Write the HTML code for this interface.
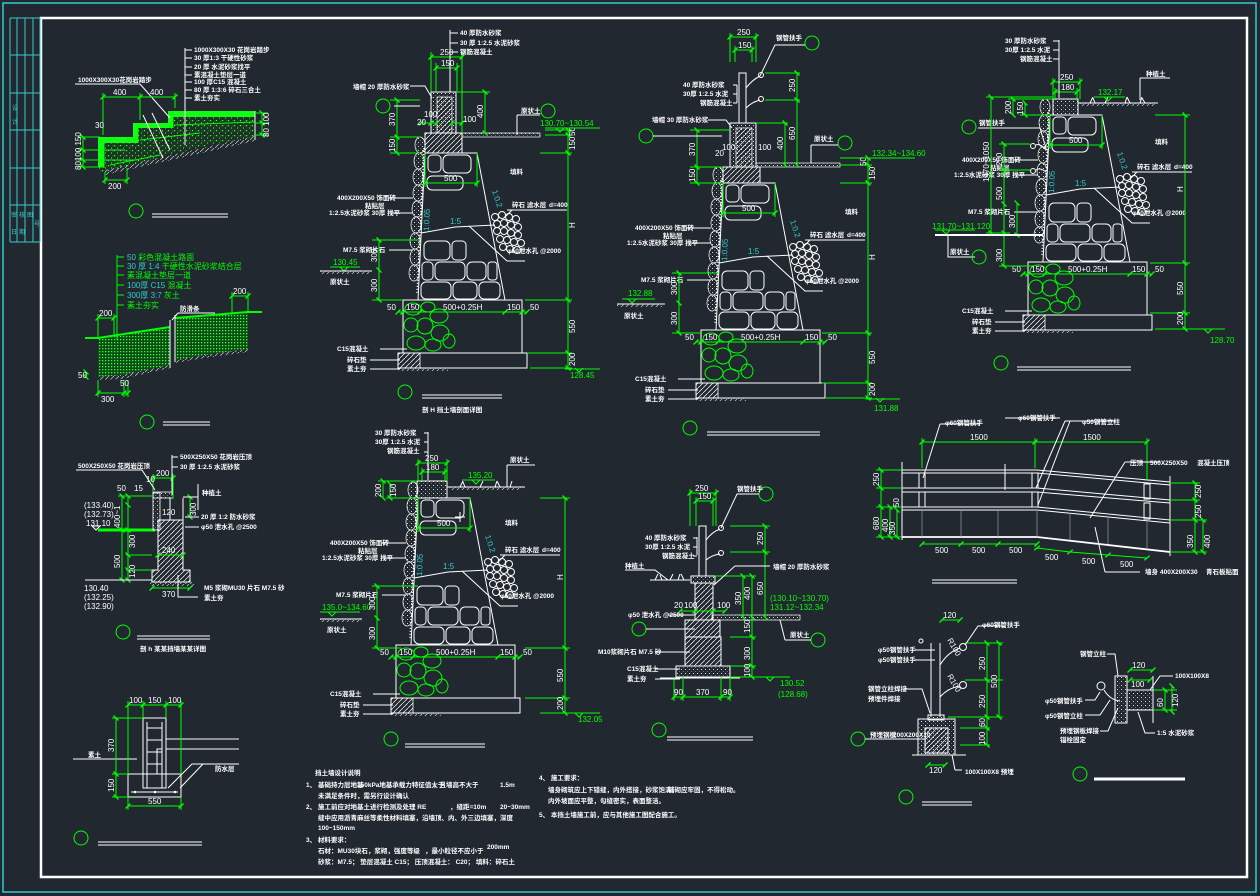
<!DOCTYPE html>
<html><head><meta charset="utf-8">
<style>
html,body{margin:0;padding:0;background:#212830;}
svg{display:block}
.w{stroke:#fff;fill:none;stroke-width:1}
.g{stroke:#0f0;fill:none;stroke-width:1}
.c{stroke:#3cc;fill:none;stroke-width:1}
.d{stroke:#0f0;fill:none;stroke-width:1;marker-start:url(#tk);marker-mid:url(#tk);marker-end:url(#tk)}
text{font-family:"Liberation Sans","Noto Sans CJK SC",sans-serif}
.t{fill:#fff;font-size:6.5px;font-weight:bold}
.gt{fill:#0f0;font-size:8px}
.ct{fill:#3cc;font-size:8px}
.dt{fill:#fff;font-size:8px}
.cy{fill:#3cc;font-size:6px}
</style></head><body>
<svg width="1260" height="896" viewBox="0 0 1260 896" xmlns="http://www.w3.org/2000/svg">
<defs>
<marker id="tk" viewBox="-4 -4 8 8" markerWidth="8" markerHeight="8" markerUnits="userSpaceOnUse" orient="auto"><path d="M-2.5,2.5L2.5,-2.5" stroke="#0f0" stroke-width="1.3"/></marker>
<pattern id="hat" width="5" height="5" patternUnits="userSpaceOnUse"><path d="M0,5L5,0" stroke="#fff" stroke-width="0.7"/></pattern>
<pattern id="dot" width="4" height="4" patternUnits="userSpaceOnUse"><rect x="1" y="1" width="1" height="1" fill="#ddd"/><rect x="3" y="3" width="0.8" height="0.8" fill="#999"/></pattern>
<pattern id="gdot" width="3" height="3" patternUnits="userSpaceOnUse"><rect width="3" height="3" fill="#0b4a14"/><rect x="0" y="0" width="1.3" height="1.3" fill="#3f3"/></pattern>
<pattern id="gsp" width="6" height="5" patternUnits="userSpaceOnUse"><rect width="6" height="5" fill="#1a3322"/><rect x="0" y="0" width="1.2" height="1.2" fill="#3f3"/><rect x="3" y="2.5" width="1" height="1" fill="#9c9"/><rect x="4.5" y="0.5" width="0.8" height="0.8" fill="#2c2"/></pattern>
<pattern id="soil" width="5" height="4" patternUnits="userSpaceOnUse"><path d="M0,4L4,0" stroke="#ccc" stroke-width="0.7"/></pattern>

<g id="wb">
 <polygon class="w" points="0,0 52,0 80,147 -7,147"/>
 <g class="w">
  <rect x="3" y="2" width="13" height="17" rx="4"/>
  <rect x="18" y="2" width="28" height="18" rx="5"/>
  <rect x="2" y="23" width="36" height="14" rx="5"/>
  <rect x="-1" y="88" width="26" height="19" rx="5"/>
  <rect x="27" y="88" width="14" height="19" rx="4"/>
  <rect x="-3" y="109" width="11" height="18" rx="4"/>
  <rect x="10" y="109" width="30" height="18" rx="5"/>
  <rect x="42" y="109" width="19" height="18" rx="5"/>
  <rect x="63" y="109" width="9" height="18" rx="3"/>
  <rect x="-4" y="129" width="30" height="17" rx="5"/>
  <rect x="28" y="129" width="24" height="17" rx="5"/>
  <rect x="54" y="129" width="21" height="17" rx="5"/>
  <path d="M-4,80 L30,74 L70,72"/>
  <path d="M44,73 L82,108 L100,108"/>
  <rect x="-22" y="147" width="119" height="53"/>
  <rect x="-27" y="200" width="129" height="15"/>
  <circle cx="70" cy="64" r="3.5"/><circle cx="77" cy="62" r="3.5"/><circle cx="84" cy="64" r="3.5"/><circle cx="91" cy="66" r="3.5"/>
  <circle cx="72" cy="71" r="3.5"/><circle cx="79" cy="70" r="3.5"/><circle cx="86" cy="72" r="3.5"/><circle cx="93" cy="74" r="3.5"/>
  <circle cx="72" cy="78" r="3.5"/><circle cx="79" cy="78" r="3.5"/><circle cx="86" cy="80" r="3.5"/><circle cx="93" cy="82" r="3.5"/>
  <circle cx="75" cy="86" r="3.5"/><circle cx="82" cy="87" r="3.5"/><circle cx="89" cy="89" r="3.5"/><circle cx="96" cy="90" r="3.5"/>
  <circle cx="78" cy="94" r="3.5"/><circle cx="85" cy="96" r="3.5"/><circle cx="92" cy="97" r="3.5"/>
 </g>
 <g stroke="#fff" stroke-width="0.7" fill="url(#dot)">
  <ellipse cx="-5" cy="-8" rx="5" ry="8"/><ellipse cx="-6" cy="8" rx="5" ry="8"/><ellipse cx="-7" cy="24" rx="5" ry="8"/>
  <ellipse cx="-7" cy="40" rx="5" ry="8"/><ellipse cx="-8" cy="56" rx="5" ry="8"/><ellipse cx="-9" cy="72" rx="5" ry="8"/>
  <ellipse cx="-10" cy="88" rx="5" ry="8"/><ellipse cx="-10" cy="104" rx="5" ry="8"/><ellipse cx="-11" cy="120" rx="5" ry="8"/>
 </g>
 <path d="M-1,-5 L-8,140" stroke="#fff" stroke-width="1.5" stroke-dasharray="1 2" fill="none"/>
 <g class="g" stroke-width="1.2">
  <ellipse cx="-12" cy="156" rx="8" ry="6"/><ellipse cx="3" cy="154" rx="7" ry="5"/><ellipse cx="14" cy="163" rx="9" ry="7"/>
  <ellipse cx="-14" cy="172" rx="7" ry="7"/><ellipse cx="0" cy="173" rx="8" ry="8"/><ellipse cx="15" cy="180" rx="9" ry="8"/>
  <ellipse cx="-9" cy="190" rx="9" ry="7"/><ellipse cx="8" cy="192" rx="8" ry="6"/><ellipse cx="24" cy="188" rx="6" ry="7"/>
 </g>
 <rect x="-27" y="200" width="22" height="15" fill="url(#hat)" stroke="#fff" stroke-width="0.8"/>
 <rect x="-27" y="215" width="50" height="3" fill="url(#soil)"/>
 <polyline class="d" points="0,30 52,30"/>
 <path class="g" d="M0,0V34M52,0V34" stroke-width="0.6"/>
 <text class="dt" x="19" y="28">500</text>
 <polyline class="d" points="-27,159 -22,159 -5,159 80,159 97,159 102,159"/>
 <text class="dt" x="-38" y="157">50</text>
 <text class="dt" x="-19" y="157">150</text>
 <text class="dt" x="18" y="157">500+0.25H</text>
 <text class="dt" x="82" y="157">150</text>
 <text class="dt" x="105" y="157">50</text>
 <text class="ct" transform="translate(67,38) rotate(72)">1:0.2</text>
 <text class="ct" transform="translate(4,78) rotate(-88)">1:0.05</text>
 <text class="ct" x="25" y="71">1:5</text>
 <text class="t" x="-88" y="47">400X200X50 饰面砖</text>
 <text class="t" x="-60" y="55">粘贴层</text>
 <text class="t" x="-96" y="62">1:2.5水泥砂浆 30厚 找平</text>
 <text class="t" x="-82" y="99">M7.5 浆砌片石</text>
 <text class="t" x="-88" y="198">C15混凝土</text>
 <text class="t" x="-78" y="209">碎石垫</text>
 <text class="t" x="-78" y="218">素土夯</text>
 <path class="w" stroke-width="0.8" d="M-36,45H-12M-36,60H-12M-36,97H-12M-45,196H-18M-55,207H-25M-55,216H-25"/>
 <text class="t" x="87" y="54">碎石 滤水层</text><text class="t" x="124" y="54">d=400</text>
 <path class="w" stroke-width="0.8" d="M82,57H142M80,64L87,57"/>
 <text class="t" x="82" y="100">φ50泄水孔 @2000</text>
</g>
</defs>

<!-- frame -->
<rect x="3" y="3" width="1253" height="889" fill="none" stroke="#3cc" stroke-width="1.5"/>
<rect x="41" y="18" width="1206" height="859" fill="none" stroke="#fff" stroke-width="2.5"/>
<g class="c">
 <path d="M10,18V242M17,18V242M25,18V242M33,18V242M40,18V242"/>
 <path d="M10,18H40M10,55H40M10,93H40M10,130H40M10,168H40M10,205H40M10,242H40"/>
</g>
<text class="cy" x="12" y="110">设</text><text class="cy" x="12" y="124">计</text>
<text class="cy" x="11" y="217">审</text><text class="cy" x="19" y="217">核</text><text class="cy" x="27" y="217">图</text>
<text class="cy" x="11" y="234">日</text><text class="cy" x="19" y="234">期</text><text class="cy" x="34" y="226">号</text>

<!-- ============ Drawing 1: steps ============ -->
<polygon points="98,137 133,137 133,123 168,123 168,111 255,111 255,137 215,144 175,153 140,163 105,172 98,172" fill="url(#gsp)"/>
<g fill="#1f1">
 <rect x="168" y="111" width="87" height="6"/>
 <rect x="168" y="111" width="5" height="17"/>
 <rect x="133" y="123" width="40" height="5"/>
 <rect x="133" y="123" width="5" height="20"/>
 <rect x="98" y="137" width="40" height="6"/>
 <rect x="98" y="137" width="6" height="30"/>
</g>
<path class="g" stroke-width="1.2" d="M104,143V168M138,128V143M173,117V128M104,160H135M104,150H125"/>
<path class="g" stroke-width="0.8" d="M175,125L255,122M140,140L200,133M110,165L160,155"/>
<path class="w" d="M255,111V140"/>
<polygon points="105,170 255,136 255,141 105,175" fill="url(#soil)"/>
<path class="w" d="M143,115L163,158M152,113L170,150"/>
<text class="t" x="78" y="82">1000X300X30花岗岩踏步</text>
<path class="w" d="M75,84H140L170,118"/>
<path class="w" d="M185,48V145M185,50H192M185,58H192M185,67H192M185,75H192M185,82H192M185,90H192M185,98H192"/>
<text class="t" x="194" y="52">1000X300X30 花岗岩踏步</text>
<text class="t" x="194" y="60">30 厚1:3 干硬性砂浆</text>
<text class="t" x="194" y="69">20 厚 水泥砂浆找平</text>
<text class="t" x="194" y="77">素混凝土垫层一道</text>
<text class="t" x="194" y="84">100 厚C15 混凝土</text>
<text class="t" x="194" y="92">80 厚 1:3:6  碎石三合土</text>
<text class="t" x="194" y="100">素土夯实</text>
<polyline class="d" points="103,97 140,97 175,97"/>
<path class="g" stroke-width="0.6" d="M103,93V135M140,93V120M175,93V108"/>
<text class="dt" x="113" y="95">400</text><text class="dt" x="150" y="95">400</text>
<polyline class="d" points="105,180 127,180"/>
<path class="g" stroke-width="0.6" d="M105,172V184M127,168V184"/>
<text class="dt" x="108" y="189">200</text>
<polyline class="d" points="83,137 83,150 83,160 83,167"/>
<path class="g" stroke-width="0.6" d="M78,137H100M78,150H104M78,160H104M78,167H104"/>
<text class="dt" transform="translate(81,170) rotate(-90)">80100 150</text>
<text class="dt" x="95" y="128">30</text>
<polyline class="d" points="262,113 262,123 262,135"/>
<path class="g" stroke-width="0.6" d="M255,113H268M255,123H268M255,135H268"/>
<text class="dt" transform="translate(269,137) rotate(-90)">80 100</text>
<circle cx="136" cy="211" r="7" class="g" stroke-width="1.5"/>
<path class="w" stroke-width="1.3" d="M152,214H228M152,217H228"/>

<!-- ============ Drawing 2: slope path ============ -->
<polygon points="98,338 170,327 170,365 122,375 98,377" fill="url(#gdot)"/>
<polygon points="175,318 248,312 248,349 205,355 175,360" fill="url(#gdot)"/>
<path d="M85,338H98L170,327M175,318L248,312H262" stroke="#0f0" stroke-width="2" fill="none"/>
<path class="w" d="M170,320V368M175,315V362"/>
<polygon points="98,377 122,375 170,365 170,368 122,379 98,380" fill="url(#soil)"/>
<polygon points="175,360 205,355 248,349 248,352 205,358 175,363" fill="url(#soil)"/>
<path class="g" d="M117,255V340M117,257H124M117,266H124M117,275H124M117,285H124M117,295H124M117,305H124"/>
<text class="gt" x="127" y="260"><tspan fill="#3cc">50</tspan> 彩色混凝土路面</text>
<text class="gt" x="127" y="269"><tspan fill="#3cc">30 厚 1:4</tspan>  干硬性水泥砂浆结合层</text>
<text class="gt" x="127" y="278">素混凝土垫层一道</text>
<text class="gt" x="127" y="288"><tspan fill="#3cc">100厚 C15</tspan>  混凝土</text>
<text class="gt" x="127" y="298"><tspan fill="#3cc">300厚 3:7</tspan> 灰土</text>
<text class="gt" x="127" y="308">素土夯实</text>
<text class="t" x="180" y="311">防滑条</text>
<path class="w" d="M178,313H215M178,313L172,320"/>
<polyline class="d" points="98,318 114,318"/>
<path class="g" stroke-width="0.6" d="M98,314V338M114,314V336"/>
<text class="dt" x="99" y="316">200</text>
<polyline class="d" points="232,296 248,296"/>
<path class="g" stroke-width="0.6" d="M232,292V314M248,292V312"/>
<text class="dt" x="233" y="294">200</text>
<polyline class="d" points="98,393 124,393 128,393"/>
<path class="g" stroke-width="0.6" d="M98,380V397M124,380V397M128,380V397"/>
<text class="dt" x="101" y="402">300</text><text class="dt" x="120" y="386">50</text>
<polyline class="d" points="86,372 86,377"/>
<text class="dt" x="78" y="378">50</text>
<circle cx="147" cy="422" r="7" class="g" stroke-width="1.5"/>
<path class="w" stroke-width="1.3" d="M163,422H210M163,425H210"/>

<!-- ============ Drawing 3: curb ============ -->
<path d="M98,530H155" stroke="#0f0" stroke-width="3"/>
<rect x="153" y="493" width="7" height="37" fill="url(#dot)" stroke="#fff" stroke-width="0.8"/>
<rect x="153" y="492" width="20" height="6" fill="url(#dot)" stroke="#fff" stroke-width="0.8"/>
<path class="w" d="M170,498V520H183V498"/>
<polygon points="158,530 158,520 183,520 183,570 190,570 190,582 152,582 152,570 158,570" fill="url(#hat)" stroke="#fff"/>
<rect x="150" y="582" width="45" height="4" fill="url(#soil)"/>
<polyline class="d" points="153,478 173,478"/>
<path class="g" stroke-width="0.6" d="M153,474V492M173,474V498"/>
<text class="dt" x="156" y="476">200</text>
<text class="dt" x="117" y="491">50</text><text class="dt" x="134" y="491">15</text><text class="dt" x="146" y="482">10</text>
<text class="dt" x="162" y="515">120</text>
<polyline class="d" points="122,496 122,530 122,580"/>
<polyline class="d" points="128,496 128,505 128,530 128,555 128,570 128,580"/>
<path class="g" stroke-width="0.6" d="M118,496H153M118,530H132M118,580H152M126,555H152M126,570H152"/>
<text class="dt" transform="translate(120,528) rotate(-90)">400~1</text>
<text class="dt" transform="translate(120,568) rotate(-90)">500</text>
<text class="dt" transform="translate(135,548) rotate(-90)">300</text>
<text class="dt" transform="translate(135,578) rotate(-90)">120</text>
<polyline class="d" points="158,555 183,555"/><text class="dt" x="162" y="553">240</text>
<polyline class="d" points="152,588 190,588"/><text class="dt" x="162" y="597">370</text>
<polyline class="d" points="190,497 190,517"/><text class="dt" transform="translate(196,516) rotate(-90)">300</text>
<text class="t" x="78" y="468">500X250X50 花岗岩压顶</text>
<path class="w" d="M76,470H142L155,490"/>
<path class="w" d="M172,455V495M172,457H178M172,467H178"/>
<text class="t" x="180" y="459">500X250X50 花岗岩压顶</text>
<text class="t" x="180" y="469">30 厚 1:2.5   水泥砂浆</text>
<path class="w" d="M183,497H198M198,484V510"/>
<text class="t" x="202" y="495">种植土</text>
<text class="t" x="201" y="519">20 厚 1:2   防水砂浆</text>
<text class="t" x="201" y="529">φ50 泄水孔 @2500</text>
<path class="w" d="M185,517H199M185,527H199M178,575V597H198"/>
<text class="t" x="204" y="590">M5 浆砌MU30 片石   M7.5 砂</text>
<text class="t" x="204" y="600">素土夯</text>
<text class="dt" x="84" y="508">(133.40)</text><text class="dt" x="84" y="517">(132.73)</text><text class="dt" x="86" y="526">131.10</text>
<path class="w" d="M96,530l4,-4h-8z" stroke-width="0.7"/>
<path class="w" d="M85,580H152"/>
<text class="dt" x="84" y="591">130.40</text><text class="dt" x="84" y="600">(132.25)</text><text class="dt" x="84" y="609">(132.90)</text>
<circle cx="123" cy="632" r="7" class="g" stroke-width="1.5"/>
<path class="w" stroke-width="1.3" d="M137,636H210M137,639H210"/>
<text class="t" x="140" y="651">剖  h   某某挡墙某某详图</text>

<!-- ============ Drawing 4: railing foundation ============ -->
<rect class="w" x="143" y="718" width="23" height="70"/>
<path class="w" d="M147,722V788M162,722V788M147,728H162M147,740H162M147,752H162M147,764H162"/>
<rect class="w" x="128" y="774" width="53" height="23"/>
<path class="w" d="M131,792H178"/>
<circle cx="135" cy="792" r="1.3" fill="#fff"/><circle cx="155" cy="792" r="1.3" fill="#fff"/><circle cx="175" cy="792" r="1.3" fill="#fff"/>
<rect class="w" x="157" y="749" width="5" height="25"/>
<path class="w" d="M166,739H239M166,749H239M168,788L192,764H239M180,788L203,764"/>
<text class="t" x="215" y="771">防水层</text>
<path class="w" d="M73,759H137"/>
<text class="t" x="88" y="757">素土</text>
<polyline class="d" points="128,705 143,705 166,705 181,705"/>
<path class="g" stroke-width="0.6" d="M128,701V774M143,701V718M166,701V718M181,701V774"/>
<text class="dt" x="129" y="703">100</text><text class="dt" x="148" y="703">150</text><text class="dt" x="168" y="703">100</text>
<polyline class="d" points="116,718 116,774 116,797"/>
<path class="g" stroke-width="0.6" d="M112,718H143M112,774H128M112,797H128"/>
<text class="dt" transform="translate(114,752) rotate(-90)">370</text>
<text class="dt" transform="translate(114,792) rotate(-90)">150</text>
<polyline class="d" points="128,806 181,806"/>
<path class="g" stroke-width="0.6" d="M128,797V810M181,797V810"/>
<text class="dt" x="148" y="804">550</text>
<circle cx="81" cy="838" r="7" class="g" stroke-width="1.5"/>
<path class="w" stroke-width="1.3" d="M98,842H202M98,845H202"/>

<!-- ============ Wall 5 (top middle) ============ -->
<use href="#wb" x="425" y="153"/>
<rect x="431" y="92" width="25" height="41" fill="url(#dot)" stroke="#fff"/>
<rect x="437" y="97" width="15" height="36" fill="url(#hat)" stroke="#fff" stroke-width="0.7"/>
<rect x="425" y="133" width="37" height="20" fill="url(#hat)" stroke="#fff"/>
<rect x="462" y="133" width="78" height="4" fill="url(#dot)" stroke="#fff" stroke-width="0.7"/>
<polyline class="d" points="431,57 462,57"/><polyline class="d" points="436,68 457,68"/>
<path class="g" stroke-width="0.6" d="M431,52V92M462,52V133M436,63V92M457,63V92"/>
<text class="dt" x="440" y="55">250</text><text class="dt" x="441" y="66">150</text>
<polyline class="d" points="485,92 485,133"/>
<path class="g" stroke-width="0.6" d="M456,92H490"/>
<text class="dt" transform="translate(483,118) rotate(-90)">400</text>
<polyline class="d" points="397,100 397,137 397,153"/>
<path class="g" stroke-width="0.6" d="M390,100H420M390,137H420M390,153H420"/>
<text class="dt" transform="translate(395,126) rotate(-90)">370</text>
<text class="dt" transform="translate(395,152) rotate(-90)">150</text>
<polyline class="d" points="421,123 431,123 437,123"/><polyline class="d" points="452,123 462,123"/>
<text class="dt" x="424" y="117">100</text><text class="dt" x="417" y="125">20</text><text class="dt" x="463" y="122">100</text>
<polyline class="d" points="568,130 568,135 568,153 568,300 568,353 568,368"/>
<path class="g" stroke-width="0.6" d="M545,130H572M545,135H572M540,153H572M525,300H572M527,353H572M530,368H572"/>
<text class="dt" transform="translate(575,136) rotate(-90)">50</text>
<text class="dt" transform="translate(575,150) rotate(-90)">150</text>
<text class="dt" transform="translate(575,228) rotate(-90)">H</text>
<text class="dt" transform="translate(575,333) rotate(-90)">550</text>
<text class="dt" transform="translate(575,366) rotate(-90)">200</text>
<text class="gt" x="540" y="126">130.70~130.54</text>
<path class="g" d="M545,128H600M556,128l4,4l4,-4"/>
<text class="gt" x="570" y="378">128.45</text>
<path class="g" d="M565,369H600M575,368l4,4l4,-4"/>
<text class="gt" x="333" y="265">130.45</text>
<path class="g" d="M330,267H360M340,267l4,4l4,-4"/>
<path class="w" d="M320,271H372"/><rect x="320" y="271" width="50" height="3" fill="url(#soil)"/>
<text class="t" x="330" y="284">原状土</text>
<polyline class="d" points="379,240 379,270 379,300"/>
<path class="g" stroke-width="0.6" d="M372,240H420M372,300H403"/>
<text class="dt" transform="translate(377,262) rotate(-90)">300</text>
<text class="dt" transform="translate(377,292) rotate(-90)">300</text>
<path class="w" d="M450,30V92M450,33H458M450,43H458M450,52H458"/>
<text class="t" x="460" y="35">40 厚防水砂浆</text>
<text class="t" x="460" y="45">30 厚 1:2.5    水泥砂浆</text>
<text class="t" x="460" y="54">钢筋混凝土</text>
<text class="t" x="353" y="89">墙帽  20 厚防水砂浆</text>
<path class="w" d="M410,86H425L432,98"/>
<circle cx="383" cy="106" r="7" class="g" stroke-width="1.5"/>
<path class="w" d="M394,106H420"/>
<circle cx="548" cy="111" r="7" class="g" stroke-width="1.5"/>
<text class="t" x="521" y="113">原状土</text>
<path class="w" d="M517,115H540M517,115V135"/>
<text class="t" x="510" y="174">填料</text>
<circle cx="405" cy="392" r="7" class="g" stroke-width="1.5"/>
<path class="w" stroke-width="1.3" d="M422,395H502M422,398H502"/>
<text class="t" x="422" y="412">剖  H   挡土墙剖面详图</text>

<!-- ============ Wall 6 (top, railing) ============ -->
<use href="#wb" x="723" y="183"/>
<rect x="739" y="73" width="7" height="50" fill="none" stroke="#fff"/>
<path class="w" stroke-width="1.5" d="M746,88Q752,80 760,76M746,108Q752,102 760,100"/>
<circle class="w" cx="761" cy="75" r="2.5"/><circle class="w" cx="761" cy="99" r="2.5"/>
<rect x="730" y="123" width="26" height="44" fill="url(#dot)" stroke="#fff"/>
<rect x="736" y="128" width="16" height="39" fill="url(#hat)" stroke="#fff" stroke-width="0.7"/>
<rect x="723" y="167" width="37" height="16" fill="url(#hat)" stroke="#fff"/>
<rect x="756" y="163" width="84" height="4" fill="url(#dot)" stroke="#fff" stroke-width="0.7"/>
<polyline class="d" points="730,37 756,37"/><polyline class="d" points="735,50 752,50"/>
<path class="g" stroke-width="0.6" d="M730,33V62M756,33V62M735,46V62M752,46V62"/>
<text class="dt" x="737" y="35">250</text><text class="dt" x="738" y="48">150</text>
<polyline class="d" points="797,73 797,100 797,165"/>
<polyline class="d" points="785,123 785,165"/>
<path class="g" stroke-width="0.6" d="M765,73H800M765,100H800M756,123H788"/>
<text class="dt" transform="translate(795,92) rotate(-90)">250</text>
<text class="dt" transform="translate(795,140) rotate(-90)">650</text>
<text class="dt" transform="translate(783,150) rotate(-90)">400</text>
<polyline class="d" points="697,130 697,167 697,183"/>
<path class="g" stroke-width="0.6" d="M690,130H730M690,167H723M690,183H723"/>
<text class="dt" transform="translate(695,156) rotate(-90)">370</text>
<text class="dt" transform="translate(695,182) rotate(-90)">150</text>
<polyline class="d" points="679,273 679,303 679,333"/>
<path class="g" stroke-width="0.6" d="M672,273H718M672,333H702"/>
<text class="dt" transform="translate(677,295) rotate(-90)">300</text>
<text class="dt" transform="translate(677,325) rotate(-90)">300</text>
<text class="dt" x="722" y="150">100</text><text class="dt" x="715" y="156">20</text><text class="dt" x="758" y="150">100</text>
<polyline class="d" points="868,158 868,165 868,183 868,333 868,383 868,398"/>
<path class="g" stroke-width="0.6" d="M840,158H872M840,165H872M840,183H872M822,333H872M822,383H872M826,398H872"/>
<text class="dt" transform="translate(866,166) rotate(-90)">50</text>
<text class="dt" transform="translate(875,180) rotate(-90)">150</text>
<text class="dt" transform="translate(875,260) rotate(-90)">H</text>
<text class="dt" transform="translate(875,364) rotate(-90)">550</text>
<text class="dt" transform="translate(875,396) rotate(-90)">200</text>
<text class="gt" x="872" y="156">132.34~134.60</text>
<path class="g" d="M862,158H915"/>
<text class="gt" x="874" y="411">131.88</text>
<path class="g" d="M866,399H900M876,398l4,4l4,-4"/>
<text class="gt" x="628" y="296">132.88</text>
<path class="g" d="M622,299H655M628,299l4,4l4,-4"/>
<path class="w" d="M617,304H665"/><rect x="617" y="304" width="45" height="3" fill="url(#soil)"/>
<text class="t" x="624" y="318">原状土</text>
<path class="w" d="M737,85V103M733,85H737M733,94H737M733,103H737"/>
<text class="t" x="683" y="87">40 厚防水砂浆</text>
<text class="t" x="683" y="96">30厚 1:2.5   水泥</text>
<text class="t" x="700" y="105">钢筋混凝土</text>
<text class="t" x="652" y="122">墙帽  30 厚防水砂浆</text>
<path class="w" d="M708,120H726L732,128"/>
<circle cx="812" cy="43" r="7" class="g" stroke-width="1.5"/>
<text class="t" x="776" y="40">钢管扶手</text>
<path class="w" d="M760,76L775,45H805"/>
<circle cx="646" cy="136" r="7" class="g" stroke-width="1.5"/>
<path class="w" d="M653,136H722"/>
<circle cx="845" cy="143" r="7" class="g" stroke-width="1.5"/>
<text class="t" x="814" y="141">原状土</text>
<path class="w" d="M811,145H838M811,145V163"/>
<text class="t" x="845" y="214">填料</text>
<circle cx="690" cy="428" r="7" class="g" stroke-width="1.5"/>
<path class="w" stroke-width="1.3" d="M707,432H820M707,435H820"/>

<!-- ============ Wall 7 (top right) ============ -->
<use href="#wb" x="1050" y="115"/>
<rect x="1053" y="99" width="25" height="16" fill="url(#dot)" stroke="#fff"/>
<path class="w" d="M1078,103H1158"/>
<path class="w" stroke-width="0.7" d="M1090,103l3,-6M1095,103l-2,-5M1105,103l3,-6M1125,103l2,-6M1130,103l-3,-6M1140,103l2,-6M1145,103l-3,-5"/>
<rect x="1080" y="103" width="75" height="3" fill="url(#soil)"/>
<text class="t" x="1146" y="76">种植土</text>
<path class="w" d="M1140,78H1170M1140,78V100"/>
<text class="gt" x="1098" y="95">132.17</text>
<path class="g" d="M1094,97H1125M1104,97l4,4l4,-4"/>
<polyline class="d" points="1053,82 1080,82"/><polyline class="d" points="1055,92 1077,92"/>
<path class="g" stroke-width="0.6" d="M1053,78V99M1080,78V99M1055,88V99M1077,88V99"/>
<text class="dt" x="1060" y="80">250</text><text class="dt" x="1061" y="90">180</text>
<polyline class="d" points="1013,99 1013,115"/><polyline class="d" points="1025,103 1025,115"/>
<path class="g" stroke-width="0.6" d="M1008,99H1053M1020,115H1050"/>
<text class="dt" transform="translate(1011,114) rotate(-90)">200</text>
<text class="dt" transform="translate(1023,115) rotate(-90)">150</text>
<path class="w" d="M1059,40V98M1053,41H1059M1053,50H1059M1053,59H1059"/>
<text class="t" x="1005" y="43">30 厚防水砂浆</text>
<text class="t" x="1005" y="52">30厚 1:2.5   水泥</text>
<text class="t" x="1020" y="61">钢筋混凝土</text>
<path class="w" stroke-width="1.3" d="M1046,150Q1040,143 1036,145M1046,172Q1040,167 1036,170"/>
<circle class="w" cx="1033" cy="146" r="2.5"/><circle class="w" cx="1033" cy="171" r="2.5"/>
<circle cx="969" cy="127" r="7" class="g" stroke-width="1.5"/>
<text class="t" x="979" y="125">钢管扶手</text>
<path class="w" d="M978,128H1040L1046,148"/>
<polyline class="d" points="991,97 991,233"/>
<path class="g" stroke-width="0.6" d="M986,97H1053M986,233H1010"/>
<text class="dt" transform="translate(989,182) rotate(-90)">1470~1050</text>
<polyline class="d" points="1004,144 1004,170 1004,204 1004,233 1004,266"/>
<path class="g" stroke-width="0.6" d="M999,144H1030M999,170H1030M999,266H1033"/>
<text class="dt" transform="translate(1002,166) rotate(-90)">200</text>
<text class="dt" transform="translate(1002,200) rotate(-90)">500</text>
<text class="dt" transform="translate(1002,262) rotate(-90)">300</text>
<polyline class="d" points="1017,203 1017,235"/>
<text class="dt" transform="translate(1015,228) rotate(-90)">300</text>
<text class="gt" x="932" y="229">131.70~131.120</text>
<path class="g" d="M935,230H975M942,230l4,4l4,-4"/>
<path d="M935,235H1043" stroke="#fff" stroke-width="2"/>
<path class="w" d="M948,235V257H975"/>
<text class="t" x="950" y="254">原状土</text>
<circle cx="979" cy="257" r="7" class="g" stroke-width="1.5"/>
<polyline class="d" points="1185,115 1185,263 1185,313 1185,329"/>
<path class="g" stroke-width="0.6" d="M1155,115H1190M1150,263H1190M1150,313H1190M1155,329H1190"/>
<text class="dt" transform="translate(1183,192) rotate(-90)">H</text>
<text class="dt" transform="translate(1183,295) rotate(-90)">550</text>
<text class="dt" transform="translate(1183,325) rotate(-90)">200</text>
<text class="gt" x="1210" y="343">128.70</text>
<path class="g" d="M1190,329H1225M1204,329l4,4l4,-4"/>
<text class="t" x="1155" y="144">填料</text>
<circle cx="1001" cy="363" r="7" class="g" stroke-width="1.5"/>
<path class="w" stroke-width="1.3" d="M1017,367H1131M1017,370H1131"/>

<!-- ============ Wall 8 (bottom middle) ============ -->
<use href="#wb" x="418" y="498"/>
<rect x="417" y="481" width="30" height="17" fill="url(#dot)" stroke="#fff"/>
<path class="w" d="M447,487H525"/>
<path class="w" stroke-width="0.7" d="M460,487l3,-6M465,487l-2,-5M480,487l3,-6M495,487l2,-6M500,487l-3,-6M510,487l2,-6"/>
<rect x="450" y="487" width="72" height="3" fill="url(#soil)"/>
<text class="t" x="510" y="462">原状土</text>
<path class="w" d="M507,465H535M507,465V487"/>
<text class="gt" x="468" y="478">135.20</text>
<path class="g" d="M462,480H495M472,480l4,4l4,-4"/>
<polyline class="d" points="418,463 447,463"/><polyline class="d" points="422,472 445,472"/>
<path class="g" stroke-width="0.6" d="M418,459V481M447,459V481M422,468V481M445,468V481"/>
<text class="dt" x="425" y="461">250</text><text class="dt" x="426" y="470">180</text>
<polyline class="d" points="383,481 383,498"/><polyline class="d" points="390,484 390,498"/>
<path class="g" stroke-width="0.6" d="M378,481H417M386,498H418"/>
<text class="dt" transform="translate(381,497) rotate(-90)">200</text>
<text class="dt" transform="translate(396,497) rotate(-90)">150</text>
<path class="w" d="M428,432V480M424,433H428M424,442H428M424,452H428"/>
<text class="t" x="375" y="435">30 厚防水砂浆</text>
<text class="t" x="375" y="444">30厚 1:2.5   水泥</text>
<text class="t" x="387" y="453">钢筋混凝土</text>
<polyline class="d" points="565,498 565,648 565,698 565,713"/>
<path class="g" stroke-width="0.6" d="M540,498H570M525,648H570M525,698H570M540,713H570"/>
<text class="dt" transform="translate(563,580) rotate(-90)">H</text>
<text class="dt" transform="translate(563,682) rotate(-90)">550</text>
<text class="dt" transform="translate(563,710) rotate(-90)">200</text>
<text class="gt" x="578" y="722">132.05</text>
<path class="g" d="M565,713H600M575,713l4,4l4,-4"/>
<text class="gt" x="322" y="610">135.0~134.60</text>
<path class="g" d="M320,612H360M328,612l4,4l4,-4"/>
<path class="w" d="M320,619H362"/><rect x="320" y="619" width="42" height="3" fill="url(#soil)"/>
<text class="t" x="327" y="632">原状土</text>
<polyline class="d" points="377,586 377,618 377,648"/>
<path class="g" stroke-width="0.6" d="M372,586H418M372,648H401"/>
<text class="dt" transform="translate(375,610) rotate(-90)">300</text>
<text class="dt" transform="translate(375,640) rotate(-90)">300</text>
<text class="t" x="505" y="525">填料</text>
<path class="w" d="M455,517h10M460,512v10"/>
<circle cx="391" cy="739" r="7" class="g" stroke-width="1.5"/>
<path class="w" stroke-width="1.3" d="M405,744H485M405,747H485"/>

<!-- ============ Drawing 9: railing wall section ============ -->
<rect x="699" y="526" width="7" height="50" fill="none" stroke="#fff"/>
<path class="w" stroke-width="1.5" d="M706,540Q712,532 720,529M706,560Q712,555 720,554"/>
<circle class="w" cx="721" cy="528" r="2.5"/><circle class="w" cx="721" cy="553" r="2.5"/>
<rect x="691" y="576" width="24" height="7" fill="url(#dot)" stroke="#fff"/>
<rect x="695" y="583" width="18" height="37" fill="url(#hat)" stroke="#fff"/>
<rect x="685" y="620" width="35" height="17" fill="url(#hat)" stroke="#fff"/>
<rect x="685" y="637" width="36" height="29" fill="url(#hat)" stroke="#fff"/>
<rect x="676" y="666" width="54" height="11" fill="url(#dot)" stroke="#fff"/>
<rect x="712" y="615" width="88" height="5" fill="url(#dot)" stroke="#fff" stroke-width="0.7"/>
<path class="w" d="M660,678H740"/>
<path class="w" stroke-width="0.7" d="M650,580H690M655,580l3,-6M662,580l-2,-5M670,580l3,-6M678,580l2,-6M684,580l-3,-6"/>
<polyline class="d" points="752,576 752,617 752,637 752,666 752,677"/>
<polyline class="d" points="765,526 765,552 765,617"/>
<polyline class="d" points="743,576 743,617"/>
<path class="g" stroke-width="0.6" d="M730,526H770M730,552H770M715,576H756M730,637H756M730,666H756M730,677H756"/>
<text class="dt" transform="translate(763,545) rotate(-90)">250</text>
<text class="dt" transform="translate(763,595) rotate(-90)">650</text>
<text class="dt" transform="translate(750,600) rotate(-90)">400</text>
<text class="dt" transform="translate(741,605) rotate(-90)">350</text>
<text class="dt" transform="translate(750,633) rotate(-90)">150</text>
<text class="dt" transform="translate(750,660) rotate(-90)">300</text>
<text class="dt" transform="translate(750,677) rotate(-90)">100</text>
<polyline class="d" points="690,493 716,493"/><polyline class="d" points="696,501 713,501"/>
<path class="g" stroke-width="0.6" d="M690,489V526M716,489V526M696,497V526M713,497V526"/>
<text class="dt" x="695" y="491">250</text><text class="dt" x="698" y="499">150</text>
<polyline class="d" points="674,697 683,697 721,697 730,697"/>
<path class="g" stroke-width="0.6" d="M674,677V701M683,677V701M721,677V701M730,677V701"/>
<text class="dt" x="674" y="695">90</text><text class="dt" x="696" y="695">370</text><text class="dt" x="723" y="695">90</text>
<text class="dt" x="674" y="608">20</text><text class="dt" x="684" y="608">100</text><text class="dt" x="717" y="608">100</text>
<polyline class="d" points="680,611 695,611 713,611 725,611"/>
<path class="w" d="M697,537V555M693,538H697M693,547H697M693,556H697"/>
<text class="t" x="645" y="540">40 厚防水砂浆</text>
<text class="t" x="645" y="549">30厚 1:2.5   水泥</text>
<text class="t" x="662" y="558">钢筋混凝土</text>
<text class="t" x="625" y="568">种植土</text>
<path class="w" d="M625,570H655L668,580"/>
<text class="t" x="628" y="617">φ50 泄水孔   @2500</text>
<path class="w" d="M668,615H695"/>
<circle cx="639" cy="629" r="7" class="g" stroke-width="1.5"/>
<path class="w" d="M646,629H695"/>
<text class="t" x="598" y="654">M10浆砌片石   M7.5 砂</text>
<path class="w" d="M655,652H690"/>
<text class="t" x="627" y="671">C15混凝土</text>
<text class="t" x="627" y="681">素土夯</text>
<path class="w" d="M655,669H680M655,679H680"/>
<text class="t" x="773" y="569">墙帽  20 厚防水砂浆</text>
<path class="w" d="M770,566H735L714,585"/>
<circle cx="766" cy="494" r="7" class="g" stroke-width="1.5"/>
<text class="t" x="737" y="491">钢管扶手</text>
<path class="w" d="M721,528L737,494H759"/>
<circle cx="818" cy="640" r="7" class="g" stroke-width="1.5"/>
<text class="t" x="790" y="637">原状土</text>
<path class="w" d="M785,640H811M785,640L780,620"/>
<text class="gt" x="770" y="601">(130.10~130.70)</text>
<text class="gt" x="770" y="610">131.12~132.34</text>
<text class="gt" x="780" y="686">130.52</text>
<text class="gt" x="778" y="697">(128.68)</text>
<path class="g" d="M740,677H790M766,677l4,4l4,-4"/>
<circle cx="659" cy="730" r="7" class="g" stroke-width="1.5"/>
<path class="w" stroke-width="1.3" d="M667,737H753M667,740H753"/>

<!-- ============ Drawing 10: railing elevation ============ -->
<g class="w">
 <path d="M902,470H1037L1170,482M902,473H1037L1170,485M902,488H1037L1170,500M902,492H1037L1170,503M902,507H1037L1170,520M902,510H1037L1170,523"/>
 <path d="M902,537H1037L1170,552" stroke-width="1.8"/>
 <path d="M902,462V540M1170,476V556"/>
 <rect x="919" y="473" width="6" height="15"/><rect x="919" y="492" width="6" height="15"/>
 <rect x="1032" y="473" width="6" height="15"/><rect x="1032" y="492" width="6" height="15"/>
 <rect x="1144" y="484" width="6" height="15"/><rect x="1144" y="503" width="6" height="16"/>
 <path d="M1005,464V490"/>
</g>
<path stroke="#999" stroke-width="0.7" d="M922,510V537M961,510V537M998,510V537M1037,510V537M1070,513V540M1108,517V544M1147,520V548"/>
<polyline class="d" points="922,442 1035,442 1147,442"/>
<path class="g" stroke-width="0.6" d="M922,438V468M1035,438V468M1147,438V480"/>
<text class="dt" x="970" y="440">1500</text><text class="dt" x="1083" y="440">1500</text>
<polyline class="d" points="922,544 961,544 998,544 1037,544"/>
<polyline class="d" points="1037,548 1070,552 1108,555 1147,558"/>
<text class="dt" x="935" y="553">500</text><text class="dt" x="972" y="553">500</text><text class="dt" x="1009" y="553">500</text>
<text class="dt" x="1045" y="560">500</text><text class="dt" x="1082" y="564">500</text><text class="dt" x="1120" y="567">500</text>
<polyline class="d" points="881,470 881,488 881,507 881,537"/>
<polyline class="d" points="890,507 890,537"/><polyline class="d" points="897,510 897,537"/>
<path class="g" stroke-width="0.6" d="M876,470H902M876,488H902M876,507H902M876,537H902"/>
<text class="dt" transform="translate(879,486) rotate(-90)">250</text>
<text class="dt" transform="translate(879,530) rotate(-90)">680</text>
<text class="dt" transform="translate(888,532) rotate(-90)">400</text>
<text class="dt" transform="translate(895,535) rotate(-90)">350</text>
<text class="dt" transform="translate(899,507) rotate(-90)">50</text>
<polyline class="d" points="1195,483 1195,500 1195,520 1195,552"/>
<polyline class="d" points="1203,520 1203,552"/>
<path class="g" stroke-width="0.6" d="M1170,483H1200M1170,500H1200M1170,520H1207M1170,552H1207"/>
<text class="dt" transform="translate(1201,498) rotate(-90)">250</text>
<text class="dt" transform="translate(1201,518) rotate(-90)">250</text>
<text class="dt" transform="translate(1193,548) rotate(-90)">350</text>
<text class="dt" transform="translate(1210,548) rotate(-90)">400</text>
<text class="t" x="945" y="425">φ60钢管扶手</text>
<path class="w" d="M940,424H980M940,424L923,478"/>
<text class="t" x="1018" y="420">φ60钢管扶手</text>
<path class="w" d="M1005,418H1060"/>
<text class="t" x="1082" y="424">φ50钢管立柱</text>
<path class="w" d="M1065,421H1115M1065,421L1036,488M1070,421L1038,505"/>
<text class="t" x="1130" y="465">压顶</text><text class="t" x="1150" y="465">500X250X50</text>
<path class="w" d="M1125,462H1160M1125,462L1090,518"/>
<text class="t" x="1197" y="465">混凝土压顶</text>
<text class="t" x="1145" y="574">墙身</text><text class="t" x="1160" y="574">400X200X30</text>
<path class="w" d="M1105,572H1140M1105,572L1095,527"/>
<text class="t" x="1206" y="574">青石板贴面</text>
<path class="w" stroke-width="1.3" d="M932,580H1017M932,583H1017"/>

<!-- ============ Drawing 11: post detail ============ -->
<path class="w" d="M931,643V717M940,643V717"/>
<path class="w" stroke-width="1.5" d="M940,665Q948,652 960,648M940,697Q948,688 960,686"/>
<circle class="w" cx="963" cy="647" r="3.5"/><circle class="w" cx="963" cy="685" r="3.5"/>
<circle cx="921" cy="641" r="2" class="w"/>
<rect x="928" y="715" width="16" height="5" fill="url(#dot)" stroke="#fff"/>
<rect x="918" y="719" width="37" height="36" fill="url(#dot)" stroke="#fff"/>
<rect x="925" y="728" width="23" height="25" fill="url(#hat)" stroke="#fff"/>
<path class="w" d="M912,755H966"/>
<polyline class="d" points="942,620 960,620"/>
<text class="dt" x="943" y="618">120</text>
<text class="dt" transform="translate(947,640) rotate(60)" fill="#0f0">R100</text>
<text class="dt" transform="translate(947,676) rotate(60)" fill="#0f0">R100</text>
<polyline class="d" points="987,643 987,680 987,717 987,728 987,745"/>
<polyline class="d" points="999,643 999,717"/>
<path class="g" stroke-width="0.6" d="M965,643H1003M965,680H1003M948,717H1003M960,728H990M960,745H990"/>
<text class="dt" transform="translate(985,670) rotate(-90)">250</text>
<text class="dt" transform="translate(985,708) rotate(-90)">250</text>
<text class="dt" transform="translate(997,688) rotate(-90)">500</text>
<text class="dt" transform="translate(985,727) rotate(-90)">60</text>
<text class="dt" transform="translate(985,745) rotate(-90)">100</text>
<polyline class="d" points="928,765 945,765"/>
<text class="dt" x="929" y="773">120</text>
<text class="t" x="982" y="627">φ60钢管扶手</text>
<path class="w" d="M965,645L978,626H1005"/>
<text class="t" x="878" y="652">φ50钢管扶手</text>
<text class="t" x="878" y="662">φ50钢管扶手</text>
<path class="w" d="M915,650H935M915,660H935"/>
<text class="t" x="868" y="691">钢管立柱焊接</text>
<text class="t" x="868" y="701">预埋件焊接</text>
<path class="w" d="M905,689H922L930,713"/>
<circle cx="858" cy="739" r="7" class="g" stroke-width="1.5"/>
<text class="t" x="870" y="737">预埋钢板</text><text class="t" x="893" y="737">200X200X10</text>
<path class="w" d="M865,739H925"/>
<text class="t" x="965" y="774">100X100X8 预埋</text>
<path class="w" d="M955,770H962M952,755L955,770"/>
<circle cx="906" cy="797" r="7" class="g" stroke-width="1.5"/>
<path class="w" stroke-width="1.3" d="M922,802H972M922,805H972"/>

<!-- ============ Drawing 12 ============ -->
<rect x="1115" y="676" width="12" height="47" fill="url(#dot)" stroke="#fff"/>
<path class="w" d="M1127,676V723M1153,676V723"/>
<rect x="1127" y="690" width="26" height="20" fill="url(#dot)" stroke="#fff"/>
<circle class="w" cx="1101" cy="686" r="4"/>
<path class="w" stroke-width="1.5" d="M1104,690Q1110,700 1120,701"/>
<polyline class="d" points="1130,670 1153,670"/><polyline class="d" points="1130,680 1150,680"/>
<text class="dt" x="1132" y="668">120</text><text class="dt" x="1131" y="687">100</text>
<polyline class="d" points="1165,690 1165,710"/><polyline class="d" points="1172,686 1172,712"/>
<path class="g" stroke-width="0.6" d="M1153,690H1177M1153,710H1177"/>
<text class="dt" transform="translate(1163,707) rotate(-90)">60</text>
<text class="dt" transform="translate(1178,707) rotate(-90)">120</text>
<text class="t" x="1080" y="656">钢管立柱</text>
<path class="w" d="M1107,654H1115L1118,676"/>
<text class="t" x="1045" y="703">φ50钢管扶手</text>
<path class="w" d="M1085,700H1095L1100,692"/>
<text class="t" x="1045" y="718">φ50钢管立柱</text>
<path class="w" d="M1085,715H1100L1110,700"/>
<text class="t" x="1060" y="733">预埋钢板焊接</text>
<text class="t" x="1060" y="742">锚栓固定</text>
<path class="w" d="M1100,731H1108L1118,708"/>
<text class="t" x="1157" y="735">1:5 水泥砂浆</text>
<path class="w" d="M1155,733H1145L1138,712"/>
<text class="t" x="1175" y="678">100X100X8</text>
<path class="w" d="M1173,676H1160L1150,690"/>
<circle cx="1080" cy="774" r="7" class="g" stroke-width="1.5"/>
<path d="M1094,779H1185" stroke="#fff" stroke-width="3"/>

<!-- ============ Notes ============ -->
<text class="t" x="315" y="775">挡土墙设计说明</text>
<text class="t" x="306" y="787">1、</text>
<text class="t" x="318" y="787">基础持力层地基</text>
<text class="t" x="357" y="787">150kPa地基承载力特征值大于</text>
<text class="t" x="433" y="787">，且墙高不大于</text>
<text class="t" x="500" y="787">1.5m</text>
<text class="t" x="318" y="798">未满足条件时，需另行设计确认</text>
<text class="t" x="306" y="809">2、</text>
<text class="t" x="318" y="809">施工前应对地基土进行检测及处理 RE</text>
<text class="t" x="450" y="809">，缝距=10m</text>
<text class="t" x="500" y="809">20~30mm</text>
<text class="t" x="318" y="820">缝中应用沥青麻丝等柔性材料填塞，沿墙顶、内、外三边填塞，深度</text>
<text class="t" x="318" y="830">100~150mm</text>
<text class="t" x="306" y="842">3、 材料要求：</text>
<text class="t" x="318" y="853">石材：MU30块石，浆砌，强度等级</text>
<text class="t" x="425" y="853">，最小粒径不应小于</text>
<text class="t" x="487" y="849">200mm</text>
<text class="t" x="318" y="864">砂浆：M7.5； 垫层混凝土   C15；  压顶混凝土：   C20；  填料：碎石土</text>
<text class="t" x="539" y="780">4、 施工要求：</text>
<text class="t" x="548" y="792">墙身砌筑应上下错缝，内外搭接，砂浆饱满，</text>
<text class="t" x="668" y="792">铺砌应牢固，不得松动。</text>
<text class="t" x="548" y="803">内外坡面应平整，勾缝密实，表面整洁。</text>
<text class="t" x="539" y="817">5、 本挡土墙施工前，应与其他施工图配合施工。</text>
</svg>
</body></html>
